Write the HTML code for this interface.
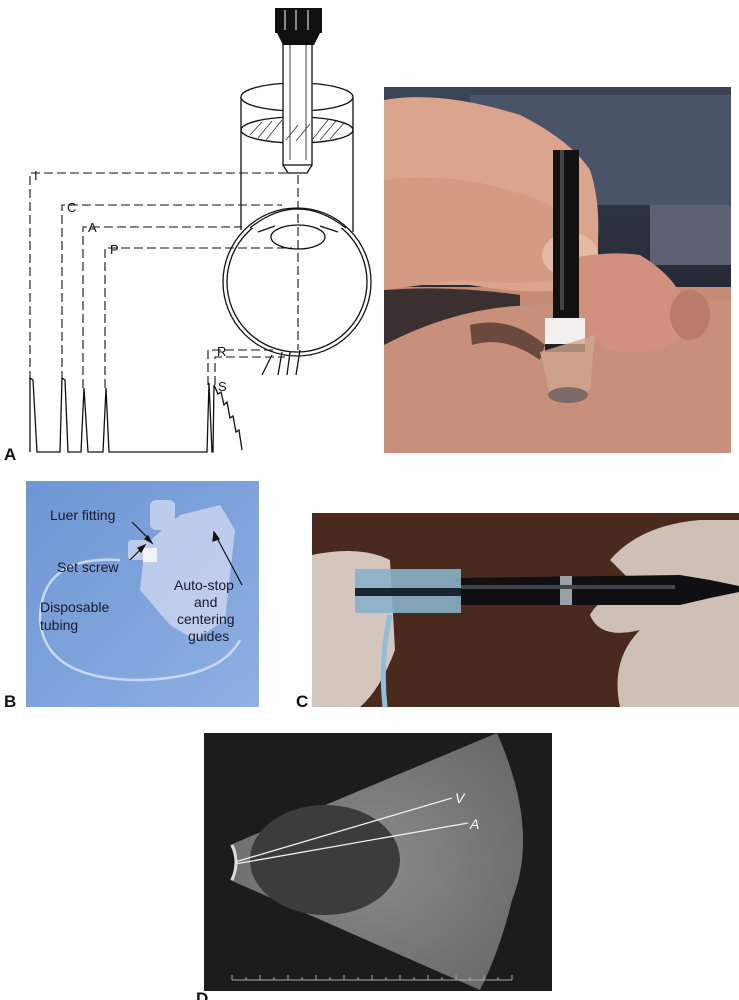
<!DOCTYPE html>
<html><head><meta charset="utf-8"><style>
html,body{margin:0;padding:0;background:#fff;}
svg{display:block;font-family:"Liberation Sans",Arial,sans-serif;}
</style></head><body>
<svg width="739" height="1000" viewBox="0 0 739 1000" xmlns="http://www.w3.org/2000/svg">
<defs>
<linearGradient id="bg1" x1="0" y1="0" x2="0" y2="1"><stop offset="0" stop-color="#3c4556"/><stop offset="1" stop-color="#252a35"/></linearGradient>
<linearGradient id="blue" x1="0" y1="0" x2="1" y2="1"><stop offset="0" stop-color="#6d96d4"/><stop offset="1" stop-color="#8fb0e2"/></linearGradient>
<radialGradient id="fan" cx="0.5" cy="0.5" r="0.6"><stop offset="0" stop-color="#8a8a8a"/><stop offset="1" stop-color="#6a6a6a"/></radialGradient>
</defs>

<!-- ===== Panel A drawing ===== -->
<g fill="none" stroke="#111" stroke-width="1.3">
  <line x1="241" y1="97" x2="241" y2="230"/>
  <line x1="353" y1="97" x2="353" y2="232"/>
  <ellipse cx="297" cy="97" rx="56" ry="14" fill="#fff"/>
  <ellipse cx="297" cy="130" rx="56" ry="13"/>
  <rect x="283" y="35" width="29" height="130" fill="#fff"/>
  <path d="M283 165 L288 173 L307 173 L312 165"/>
  <line x1="290" y1="40" x2="290" y2="160" stroke-width="0.8"/>
  <line x1="306" y1="40" x2="306" y2="160" stroke-width="0.8"/>
</g>
<g stroke="#333" stroke-width="0.8">
  <line x1="250" y1="135" x2="262" y2="122"/><line x1="258" y1="138" x2="272" y2="121"/><line x1="266" y1="140" x2="282" y2="120"/>
  <line x1="312" y1="140" x2="328" y2="120"/><line x1="320" y1="140" x2="336" y2="121"/><line x1="330" y1="139" x2="344" y2="123"/>
  <line x1="286" y1="140" x2="298" y2="125"/><line x1="296" y1="141" x2="310" y2="124"/>
</g>
<rect x="275" y="8" width="47" height="25" fill="#111"/>
<path d="M277 33 L320 33 L314 45 L283 45 Z" fill="#111"/>
<g stroke="#fff" stroke-width="1"><line x1="285" y1="10" x2="285" y2="30"/><line x1="296" y1="10" x2="296" y2="30"/><line x1="308" y1="10" x2="308" y2="30"/></g>
<g fill="none" stroke="#111" stroke-width="1.3">
  <circle cx="297" cy="282" r="74" fill="#fff"/>
  <circle cx="297" cy="282" r="70"/>
  <path d="M250 228 Q297 190 346 228" fill="#fff"/>
  <ellipse cx="298" cy="237" rx="27" ry="12"/>
  <path d="M258 232 L275 226 M320 226 L338 232"/>
  <path d="M272 355 L262 375 M282 352 L278 375 M290 352 L287 375 M300 350 L296 375"/>
</g>
<g fill="none" stroke="#111" stroke-width="1.1" stroke-dasharray="9,4">
  <path d="M30 380 L30 173 L290 173"/>
  <path d="M62 380 L62 205 L282 205"/>
  <path d="M83 388 L83 227 L242 227"/>
  <path d="M105 388 L105 248 L292 248"/>
  <path d="M298 175 L298 350"/>
  <path d="M208 385 L208 350 L275 350"/>
  <path d="M215 385 L215 357 L285 357"/>
</g>
<g font-size="13" fill="#111">
  <text x="34" y="180">I</text><text x="67" y="212">C</text><text x="88" y="232">A</text><text x="110" y="254">P</text>
  <text x="217" y="356">R</text><text x="218" y="391">S</text>
</g>
<path d="M30 452 L30 378 L33 380 L37 452 L60 452 L62 378 L65 380 L68 452 L81 452 L84 388 L88 452 L103 452 L106 388 L109 452 L207 452 L209 383 L212 452 L213 452 L214 385 L218 394 L221 392 L224 405 L227 402 L230 418 L233 416 L236 432 L239 430 L242 450" fill="none" stroke="#111" stroke-width="1.3"/>
<text x="4" y="460" font-size="17" font-weight="bold" fill="#111">A</text>

<!-- ===== top-right photo ===== -->
<rect x="384" y="87" width="347" height="366" fill="#c58b73"/>
<rect x="384" y="87" width="347" height="200" fill="url(#bg1)"/>
<rect x="470" y="95" width="261" height="110" fill="#4a5468"/>
<rect x="650" y="205" width="81" height="60" fill="#5c6272"/>
<path d="M384 100 Q440 90 520 115 Q570 140 590 170 Q600 200 598 240 L598 280 Q560 300 470 285 L384 285 Z" fill="#dba58d"/>
<path d="M384 180 Q460 170 540 200 Q585 225 590 265 Q560 290 460 280 L384 290 Z" fill="#d49a82"/>
<ellipse cx="570" cy="255" rx="28" ry="22" fill="#e6b9a5"/>
<path d="M384 290 Q450 285 520 295 L520 320 Q450 315 384 345 Z" fill="#3a3030"/>
<path d="M384 345 Q460 305 540 305 L731 300 L731 453 L384 453 Z" fill="#c8907a"/>
<path d="M560 260 Q610 250 640 255 Q690 285 690 330 Q660 360 610 350 Q575 330 560 300 Z" fill="#d2917f"/>
<ellipse cx="690" cy="315" rx="20" ry="25" fill="#b97c6a"/>
<path d="M470 325 Q510 315 545 345 L540 360 Q505 335 472 345 Z" fill="#6a4a3c"/>
<rect x="553" y="150" width="26" height="170" fill="#111"/>
<rect x="560" y="150" width="4" height="160" fill="#444"/>
<rect x="545" y="318" width="40" height="26" fill="#f2f0ee"/>
<rect x="545" y="344" width="40" height="8" fill="#222"/>
<path d="M540 352 L595 335 L590 390 L550 395 Z" fill="#cfa58f" opacity="0.8"/>
<ellipse cx="568" cy="395" rx="20" ry="8" fill="#7d6a68"/>

<!-- ===== Panel B ===== -->
<rect x="26" y="481" width="233" height="226" fill="url(#blue)"/>
<path d="M120 560 Q40 555 40 620 Q45 680 140 680 Q220 678 240 640" fill="none" stroke="#c8d8f2" stroke-width="2.5"/>
<g fill="#c9d4ef" opacity="0.85">
  <rect x="150" y="500" width="25" height="30" rx="6"/>
  <path d="M180 515 L220 505 L235 530 L225 620 L195 640 L170 625 L140 590 L145 545 Z"/>
  <rect x="128" y="540" width="30" height="20" rx="4"/>
</g>
<rect x="143" y="548" width="14" height="14" fill="#f2f2f8"/>
<g font-size="14" fill="#1a1a2a">
  <text x="50" y="520">Luer fitting</text>
  <text x="57" y="572">Set screw</text>
  <text x="40" y="612">Disposable</text><text x="40" y="630">tubing</text>
  <text x="174" y="590">Auto-stop</text><text x="194" y="607">and</text><text x="177" y="624">centering</text><text x="188" y="641">guides</text>
</g>
<g stroke="#111" stroke-width="1.2" fill="#111">
  <line x1="132" y1="522" x2="150" y2="540"/><path d="M152 543 L145 539 L148 536 Z"/>
  <line x1="130" y1="560" x2="142" y2="548"/><path d="M145 545 L138 548 L141 552 Z"/>
  <line x1="242" y1="585" x2="216" y2="536"/><path d="M214 532 L213 541 L219 539 Z"/>
</g>
<text x="4" y="707" font-size="17" font-weight="bold" fill="#111">B</text>

<!-- ===== Panel C ===== -->
<rect x="312" y="513" width="427" height="194" fill="#4a2a1c"/>
<path d="M610 560 Q640 525 700 520 L739 520 L739 707 L620 707 Q610 660 640 630 Q600 640 590 615 Q600 595 640 590 Z" fill="#cfc0b6"/>
<path d="M455 578 L680 575 L710 580 L739 586 L739 592 L710 598 L680 605 L455 605 Z" fill="#101012"/>
<rect x="560" y="576" width="12" height="29" fill="#9aa0a8"/>
<rect x="455" y="585" width="220" height="4" fill="#40444c"/>
<path d="M312 555 Q360 545 390 560 L395 650 Q380 690 360 707 L312 707 Z" fill="#d4c6bd"/>
<rect x="355" y="569" width="106" height="44" fill="#8ab0c8" opacity="0.9"/>
<rect x="355" y="588" width="106" height="8" fill="#1a2530"/>
<path d="M390 615 Q380 660 385 707" fill="none" stroke="#8fc0d8" stroke-width="5"/>
<text x="296" y="707" font-size="17" font-weight="bold" fill="#111">C</text>

<!-- ===== Panel D ===== -->
<rect x="204" y="733" width="348" height="258" fill="#1c1c1c"/>
<path d="M230 845 L497 733 Q540 830 512 900 Q500 950 480 990 L230 880 Q240 862 230 845 Z" fill="url(#fan)"/>
<ellipse cx="325" cy="860" rx="75" ry="55" fill="#3c3c3c"/>
<g stroke="#eee" stroke-width="1.3">
  <line x1="235" y1="862" x2="452" y2="798"/>
  <line x1="235" y1="864" x2="468" y2="823"/>
</g>
<path d="M232 845 Q240 862 232 880" fill="none" stroke="#ddd" stroke-width="3"/>
<g font-size="14" font-style="italic" fill="#fff"><text x="455" y="803">V</text><text x="470" y="829">A</text></g>
<line x1="232" y1="980" x2="512" y2="980" stroke="#aaa" stroke-width="1"/>
<g stroke="#aaa" stroke-width="1">
  <path d="M232 975V980M246 977V980M260 975V980M274 977V980M288 975V980M302 977V980M316 975V980M330 977V980M344 975V980M358 977V980M372 975V980M386 977V980M400 975V980M414 977V980M428 975V980M442 977V980M456 975V980M470 977V980M484 975V980M498 977V980M512 975V980"/>
</g>
<text x="196" y="1004" font-size="17" font-weight="bold" fill="#111">D</text>
</svg>
</body></html>
